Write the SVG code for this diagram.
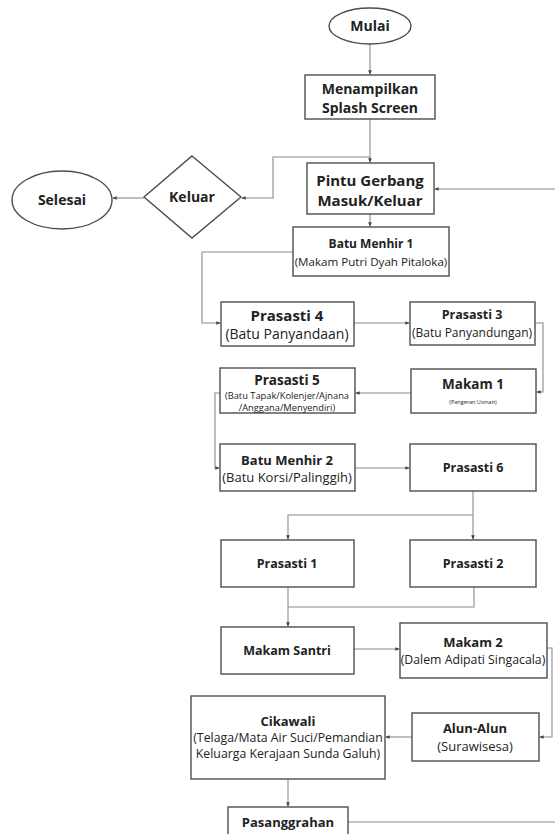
<svg xmlns="http://www.w3.org/2000/svg" width="555" height="834" viewBox="0 0 555 834">
<defs>
<style>
.n{fill:#fff;stroke:#4d4d4d;stroke-width:1.4}
.t{font-family:"Open Sans","Noto Sans","Liberation Sans",sans-serif;fill:#222;text-anchor:middle}
.b{font-weight:bold}
.c{fill:none;stroke:#8a8a8a;stroke-width:1.1}
</style>
<marker id="a" viewBox="0 0 6 6" refX="5" refY="3" markerWidth="4" markerHeight="4" orient="auto">
<path d="M0,0.5 L6,3 L0,5.5 z" fill="#444"/>
</marker>
</defs>
<rect width="555" height="834" fill="#fff"/>
<g id="connectors">
<path class="c" d="M370,44 V74" marker-end="url(#a)"/>
<path class="c" d="M370,119 V162" marker-end="url(#a)"/>
<path class="c" d="M370,157 H273 V198 H242" marker-end="url(#a)"/>
<path class="c" d="M144,198 H113" marker-end="url(#a)"/>
<path class="c" d="M555,189 H435" marker-end="url(#a)"/>
<path class="c" d="M370,214 V226" marker-end="url(#a)"/>
<path class="c" d="M293,252 H202 V323 H220" marker-end="url(#a)"/>
<path class="c" d="M354,323 H409" marker-end="url(#a)"/>
<path class="c" d="M535,323 H543 V392 H537" marker-end="url(#a)"/>
<path class="c" d="M411,393 H356" marker-end="url(#a)"/>
<path class="c" d="M220,393 H215 V468 H219" marker-end="url(#a)"/>
<path class="c" d="M355,468 H409" marker-end="url(#a)"/>
<path class="c" d="M473,491 V539" marker-end="url(#a)"/>
<path class="c" d="M473,515 H288 V539" marker-end="url(#a)"/>
<path class="c" d="M288,587 V607 M474,587 V607 H288"/>
<path class="c" d="M288,607 V626" marker-end="url(#a)"/>
<path class="c" d="M354,649 H399" marker-end="url(#a)"/>
<path class="c" d="M547,648 H552 V737 H540" marker-end="url(#a)"/>
<path class="c" d="M412,737 H386" marker-end="url(#a)"/>
<path class="c" d="M288,779 V806" marker-end="url(#a)"/>
<path class="c" d="M348,822 H555"/>
</g>
<g id="mulai"><ellipse class="n" cx="370" cy="26" rx="41" ry="18"/><text class="t b" x="370" y="31" font-size="14">Mulai</text></g>
<g id="splash"><rect class="n" x="305" y="75" width="130" height="44"/><text class="t b" x="370" y="94" font-size="14">Menampilkan</text><text class="t b" x="370" y="113" font-size="14">Splash Screen</text></g>
<g id="pintu"><rect class="n" x="307" y="163" width="127" height="51"/><text class="t b" x="370" y="186" font-size="15">Pintu Gerbang</text><text class="t b" x="370" y="206" font-size="15">Masuk/Keluar</text></g>
<g id="keluar"><polygon class="n" points="192,156 241,197 192,238 144,197"/><text class="t b" x="192" y="202" font-size="14">Keluar</text></g>
<g id="selesai"><ellipse class="n" cx="62" cy="200" rx="50" ry="29"/><text class="t b" x="62" y="205" font-size="14">Selesai</text></g>
<g id="menhir1"><rect class="n" x="293" y="227" width="156" height="49"/><text class="t b" x="371" y="248" font-size="12">Batu Menhir 1</text><text class="t" x="371" y="266" font-size="11.6">(Makam Putri Dyah Pitaloka)</text></g>
<g id="prasasti4"><rect class="n" x="221" y="302" width="133" height="44"/><text class="t b" x="287" y="321" font-size="15">Prasasti 4</text><text class="t" x="287" y="339" font-size="14">(Batu Panyandaan)</text></g>
<g id="prasasti3"><rect class="n" x="410" y="302" width="125" height="43"/><text class="t b" x="472" y="319" font-size="12.5">Prasasti 3</text><text class="t" x="472" y="337" font-size="12">(Batu Panyandungan)</text></g>
<g id="makam1"><rect class="n" x="411" y="369" width="125" height="44"/><text class="t b" x="473" y="389" font-size="13.5">Makam 1</text><text class="t" x="473" y="404" font-size="5.5">(Pangeran Usman)</text></g>
<g id="prasasti5"><rect class="n" x="220" y="368" width="135" height="45"/><text class="t b" x="287" y="385" font-size="13.5">Prasasti 5</text><text class="t" x="287" y="399" font-size="9.3">(Batu Tapak/Kolenjer/Ajnana</text><text class="t" x="287" y="410.5" font-size="9.3">/Anggana/Menyendiri)</text></g>
<g id="menhir2"><rect class="n" x="220" y="444" width="135" height="47"/><text class="t b" x="287" y="465" font-size="13">Batu Menhir 2</text><text class="t" x="287" y="482" font-size="13">(Batu Korsi/Palinggih)</text></g>
<g id="prasasti6"><rect class="n" x="410" y="444" width="126" height="47"/><text class="t b" x="473" y="472" font-size="12.5">Prasasti 6</text></g>
<g id="prasasti1"><rect class="n" x="221" y="540" width="133" height="47"/><text class="t b" x="287" y="568" font-size="12.5">Prasasti 1</text></g>
<g id="prasasti2"><rect class="n" x="410" y="540" width="126" height="47"/><text class="t b" x="473" y="568" font-size="12.5">Prasasti 2</text></g>
<g id="santri"><rect class="n" x="221" y="627" width="133" height="47"/><text class="t b" x="287" y="655" font-size="12.5">Makam Santri</text></g>
<g id="makam2"><rect class="n" x="400" y="623" width="147" height="55"/><text class="t b" x="473" y="647" font-size="13">Makam 2</text><text class="t" x="473" y="664" font-size="12.3">(Dalem Adipati Singacala)</text></g>
<g id="alun"><rect class="n" x="412" y="713" width="127" height="48"/><text class="t b" x="475" y="733" font-size="13">Alun-Alun</text><text class="t" x="475" y="751" font-size="13">(Surawisesa)</text></g>
<g id="cikawali"><rect class="n" x="191" y="696" width="194" height="83"/><text class="t b" x="288" y="726" font-size="13">Cikawali</text><text class="t" x="288" y="742" font-size="12.3">(Telaga/Mata Air Suci/Pemandian</text><text class="t" x="288" y="758" font-size="12.3">Keluarga Kerajaan Sunda Galuh)</text></g>
<g id="pasanggrahan"><rect class="n" x="228" y="807" width="120" height="40"/><text class="t b" x="288" y="827" font-size="13">Pasanggrahan</text></g>
</svg>
